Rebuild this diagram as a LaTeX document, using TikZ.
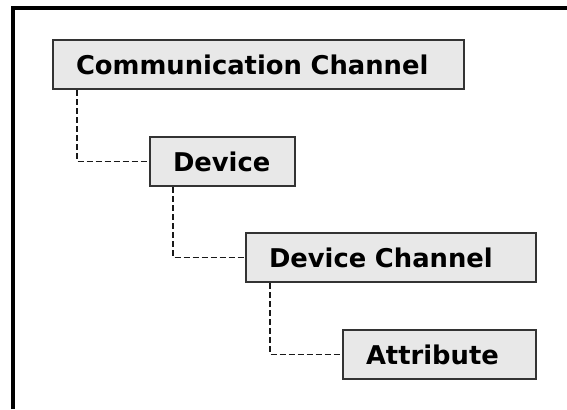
\documentclass[tikz,border=0pt]{standalone}
\usepackage{fontspec}
\setsansfont{DejaVu Sans}
\usepackage{tikz}
\usetikzlibrary{positioning,calc}

\begin{document}
\begin{tikzpicture}[
        x=0.5pt, y=-0.5pt,
        every node/.style={font=\sffamily\bfseries\fontsize{12.9}{14}\selectfont},
        item/.style={rectangle, draw=black!80, line width=1pt, fill=black!9, align=left, inner xsep=11.5pt, minimum height=24.5pt},
        link/.style={draw=black!90, line width=0.9pt, dash pattern=on 3pt off 1.5pt},
        frame/.style={draw=black, line width=2pt}
        ]
        \useasboundingbox (0,0) rectangle (567,409);
        \draw[frame] (13,409) -- (13,8) -- (567,8);

        \node[item, text width=182.5pt] (comm) at (258.5, 64.5) {Communication Channel};
        \node[item, text width=49.5pt] (dev) at (222.5, 161.5) {Device};
        \node[item, text width=122pt] (devch) at (391, 257.5) {Device Channel};
        \node[item, text width=73.5pt] (attr) at (439.5, 354.5) {Attribute};

        \draw[link] ([xshift=12.5pt]comm.south west) |- (dev.west);
        \draw[link] ([xshift=12pt]dev.south west) |- (devch.west);
        \draw[link] ([xshift=12.5pt]devch.south west) |- (attr.west);
    \end{tikzpicture}
\end{document}
